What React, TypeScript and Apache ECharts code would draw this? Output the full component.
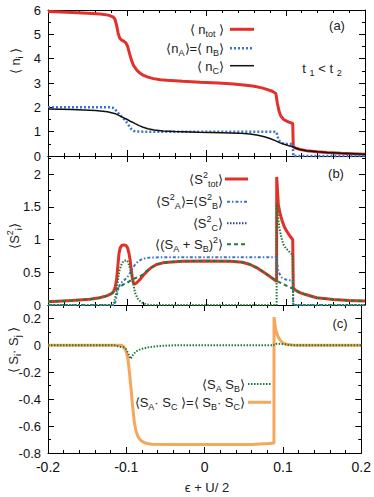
import React, { useEffect, useRef } from "react";
import * as echarts from "echarts";

// ---------- data (x = epsilon + U/2) ----------
const xTickValues = [-0.2, -0.1, 0, 0.1, 0.2];

// panel (a): occupations
const nTot: [number, number][] = [
  [-0.2, 5.94], [-0.176, 5.91], [-0.15, 5.87], [-0.134, 5.84], [-0.124, 5.79], [-0.118, 5.72],
  [-0.1155, 5.62], [-0.1135, 5.38], [-0.1115, 5.05], [-0.1095, 4.84], [-0.107, 4.76], [-0.104, 4.71],
  [-0.1015, 4.64], [-0.0995, 4.5], [-0.097, 4.2], [-0.0945, 3.92], [-0.092, 3.72], [-0.088, 3.53],
  [-0.084, 3.41], [-0.08, 3.32], [-0.074, 3.24], [-0.067, 3.18], [-0.058, 3.13], [-0.05, 3.11],
  [-0.03, 3.07], [-0.008, 3.03], [0.015, 3.0], [0.034, 2.96], [0.05, 2.91], [0.06, 2.87], [0.07, 2.8],
  [0.077, 2.73], [0.083, 2.66], [0.0875, 2.57], [0.0895, 2.16], [0.0915, 1.85], [0.0935, 1.66],
  [0.097, 1.51], [0.1, 1.45], [0.104, 1.39], [0.1088, 1.34], [0.1095, 0.38], [0.113, 0.32],
  [0.118, 0.27], [0.126, 0.22], [0.14, 0.17], [0.152, 0.14], [0.17, 0.11], [0.2, 0.07],
];
const nA: [number, number][] = [
  [-0.2, 2.0], [-0.122, 2.0], [-0.118, 1.98], [-0.1155, 1.93], [-0.113, 1.82], [-0.109, 1.68],
  [-0.106, 1.58], [-0.103, 1.48], [-0.1, 1.35], [-0.097, 1.2], [-0.0945, 1.09], [-0.092, 1.03],
  [-0.088, 1.01], [-0.08, 1.0], [0.0875, 1.0], [0.0885, 0.98], [0.0895, 0.82], [0.091, 0.66],
  [0.093, 0.58], [0.096, 0.53], [0.1, 0.5], [0.1088, 0.49], [0.1095, 0.0], [0.2, 0.0],
];
const nC: [number, number][] = [
  [-0.2, 1.93], [-0.17, 1.91], [-0.14, 1.87], [-0.125, 1.82], [-0.115, 1.74], [-0.11, 1.66],
  [-0.105, 1.58], [-0.1, 1.5], [-0.097, 1.44], [-0.094, 1.4], [-0.09, 1.33], [-0.085, 1.25],
  [-0.08, 1.18], [-0.074, 1.12], [-0.066, 1.07], [-0.055, 1.03], [-0.04, 1.01], [-0.01, 0.98],
  [0.02, 0.96], [0.04, 0.94], [0.055, 0.9], [0.065, 0.85], [0.073, 0.79], [0.08, 0.72],
  [0.0875, 0.62], [0.092, 0.55], [0.097, 0.49], [0.103, 0.43], [0.1088, 0.38], [0.113, 0.32],
  [0.118, 0.27], [0.126, 0.22], [0.14, 0.17], [0.152, 0.14], [0.17, 0.11], [0.2, 0.07],
];

// panel (b): squared spins
const sTot2: [number, number][] = [
  [-0.2, 0.05], [-0.17, 0.07], [-0.147, 0.087], [-0.135, 0.11], [-0.126, 0.14], [-0.1205, 0.17],
  [-0.1175, 0.2], [-0.1155, 0.26], [-0.1135, 0.38], [-0.112, 0.58], [-0.1105, 0.78], [-0.109, 0.87],
  [-0.107, 0.91], [-0.1045, 0.92], [-0.1015, 0.91], [-0.0995, 0.87], [-0.098, 0.8], [-0.0965, 0.7],
  [-0.095, 0.55], [-0.0935, 0.4], [-0.092, 0.33], [-0.0905, 0.32], [-0.088, 0.34], [-0.084, 0.39],
  [-0.08, 0.45], [-0.0755, 0.51], [-0.07, 0.57], [-0.063, 0.62], [-0.055, 0.645], [-0.048, 0.655],
  [-0.03, 0.67], [0, 0.675], [0.03, 0.67], [0.045, 0.655], [0.055, 0.62], [0.065, 0.56],
  [0.076, 0.47], [0.0865, 0.38], [0.0885, 0.36], [0.0886, 1.96], [0.0906, 1.54], [0.0928, 1.4],
  [0.0949, 1.31], [0.098, 1.2], [0.1012, 1.13], [0.105, 1.06], [0.1088, 1.0], [0.1095, 0.26],
  [0.113, 0.22], [0.118, 0.19], [0.125, 0.16], [0.139, 0.11], [0.16, 0.085], [0.18, 0.07], [0.2, 0.06],
];
const sA2: [number, number][] = [
  [-0.2, 0], [-0.116, 0], [-0.114, 0.1], [-0.112, 0.22], [-0.109, 0.32], [-0.106, 0.36],
  [-0.103, 0.39], [-0.1, 0.42], [-0.097, 0.48], [-0.094, 0.55], [-0.09, 0.62], [-0.086, 0.67],
  [-0.08, 0.71], [-0.072, 0.725], [-0.06, 0.73], [0.0875, 0.73], [0.0885, 0.72], [0.0895, 0.6],
  [0.0906, 0.52], [0.093, 0.46], [0.095, 0.42], [0.1, 0.39], [0.1088, 0.37], [0.1095, 0], [0.2, 0],
];
const sC2: [number, number][] = [
  [-0.2, 0], [-0.12, 0], [-0.117, 0.03], [-0.1142, 0.16], [-0.112, 0.35], [-0.11, 0.52],
  [-0.107, 0.63], [-0.104, 0.68], [-0.1, 0.68], [-0.098, 0.62], [-0.0945, 0.47], [-0.092, 0.3],
  [-0.0902, 0.19], [-0.087, 0.1], [-0.084, 0.06], [-0.08, 0.025], [-0.0755, 0.01], [-0.07, 0],
  [0.0885, 0], [0.0886, 1.56], [0.0905, 1.32], [0.092, 1.18], [0.0945, 1.03], [0.097, 0.93],
  [0.1, 0.87], [0.1033, 0.83], [0.1088, 0.76], [0.1095, 0], [0.2, 0],
];
const sAB2: [number, number][] = [
  [-0.2, 0.05], [-0.17, 0.07], [-0.147, 0.087], [-0.135, 0.11], [-0.126, 0.14], [-0.12, 0.17],
  [-0.1155, 0.21], [-0.1133, 0.24], [-0.1055, 0.31], [-0.1, 0.34], [-0.0965, 0.37], [-0.09, 0.41],
  [-0.084, 0.44], [-0.08, 0.47], [-0.0755, 0.52], [-0.07, 0.57], [-0.063, 0.62], [-0.055, 0.645],
  [-0.048, 0.655], [-0.03, 0.67], [0, 0.675], [0.03, 0.67], [0.045, 0.655], [0.055, 0.62],
  [0.065, 0.56], [0.076, 0.47], [0.0865, 0.38], [0.0885, 0.37], [0.095, 0.33], [0.1, 0.3],
  [0.105, 0.27], [0.1095, 0.25], [0.113, 0.22], [0.118, 0.19], [0.125, 0.16], [0.139, 0.11],
  [0.16, 0.085], [0.18, 0.07], [0.2, 0.06],
];

// panel (c): spin correlations
const sAsB: [number, number][] = [
  [-0.2, 0], [-0.115, 0], [-0.11, -0.008], [-0.104, -0.015], [-0.1, -0.03], [-0.097, -0.07],
  [-0.0945, -0.1], [-0.092, -0.075], [-0.088, -0.047], [-0.084, -0.034], [-0.0797, -0.025],
  [-0.072, -0.015], [-0.063, -0.008], [-0.05, -0.002], [-0.04, 0], [0.0885, 0], [0.0886, 0.006],
  [0.092, 0.012], [0.1, 0.01], [0.106, 0.005], [0.112, 0], [0.2, 0],
];
const sAsC: [number, number][] = [
  [-0.2, 0], [-0.106, 0], [-0.103, -0.01], [-0.1, -0.05], [-0.098, -0.1], [-0.096, -0.2],
  [-0.094, -0.32], [-0.092, -0.45], [-0.09, -0.56], [-0.088, -0.63], [-0.085, -0.68],
  [-0.081, -0.71], [-0.076, -0.725], [-0.068, -0.735], [-0.04, -0.737], [0.06, -0.737],
  [0.082, -0.73], [0.0885, -0.725], [0.0886, 0.21], [0.0895, 0.17], [0.0906, 0.12], [0.093, 0.076],
  [0.095, 0.05], [0.0977, 0.03], [0.101, 0.015], [0.106, 0.006], [0.112, 0.002], [0.12, 0], [0.2, 0],
];

// ---------- styling ----------
const FONT = "'Liberation Sans', Arial, Helvetica, sans-serif";
const RED = "#e2302b";
const BLUE = "#3b74cf";
const NAVY = "#2a3f8f";
const GREEN = "#1e7d36";
const ORANGE = "#f8a65a";
const BLACK = "#111111";

const LEFT = 48;
const WIDTH = 317;
const PANELS = [
  { top: 10, height: 146, min: 0, max: 6, interval: 1, minor: 2, showMax: true },
  { top: 156, height: 149, min: 0, max: 2.28, interval: 0.5, minor: 2, showMax: false },
  { top: 305, height: 148, min: -0.8, max: 0.3, interval: 0.2, minor: 2, showMax: false },
];

const RICH: any = {
  sub: { fontSize: 9, lineHeight: 9, verticalAlign: "bottom", fontFamily: FONT },
  sup: { fontSize: 9, lineHeight: 9, verticalAlign: "top", fontFamily: FONT },
};

function txt(x: number, y: number, text: string, align: string, extra: any = {}) {
  return {
    type: "text",
    x,
    y,
    silent: true,
    ...extra,
    style: {
      text,
      align,
      verticalAlign: "middle",
      fontSize: 13,
      lineHeight: 18,
      fontFamily: FONT,
      fill: "#222",
      rich: RICH,
    },
  };
}
function sample(x1: number, x2: number, y: number, stroke: string, lineWidth: number, lineDash?: number[]) {
  return {
    type: "line",
    silent: true,
    shape: { x1, y1: y, x2, y2: y },
    style: { stroke, lineWidth, lineDash: lineDash || null },
  };
}

export default function App() {
  const ref = useRef<HTMLDivElement>(null);
  useEffect(() => {
    const chart = echarts.init(ref.current!, null, { renderer: "svg" });
    const grids = PANELS.map((p) => ({ left: LEFT, width: WIDTH, top: p.top, height: p.height }));
    const xAxes: any[] = [];
    const yAxes: any[] = [];
    PANELS.forEach((p, gi) => {
      ["bottom", "top"].forEach((pos) => {
        xAxes.push({
          type: "value",
          gridIndex: gi,
          position: pos,
          min: -0.2,
          max: 0.2,
          interval: 0.1,
          axisLine: { show: true, onZero: false, lineStyle: { color: "#000", width: 1 } },
          axisTick: { show: true, inside: true, length: 6, lineStyle: { color: "#000" } },
          minorTick: { show: true, splitNumber: 5, length: 3, lineStyle: { color: "#000" } },
          splitLine: { show: false },
          axisLabel: {
            show: gi === 2 && pos === "bottom",
            fontSize: 14,
            color: "#111",
            margin: 7,
            fontFamily: FONT,
            customValues: xTickValues,
          },
        });
      });
      ["left", "right"].forEach((pos) => {
        yAxes.push({
          type: "value",
          gridIndex: gi,
          position: pos,
          min: p.min,
          max: p.max,
          interval: p.interval,
          axisLine: { show: true, onZero: false, lineStyle: { color: "#000", width: 1 } },
          axisTick: { show: true, inside: true, length: 6, lineStyle: { color: "#000" } },
          minorTick: { show: true, splitNumber: p.minor, length: 3, lineStyle: { color: "#000" } },
          splitLine: { show: false },
          axisLabel: {
            show: pos === "left",
            fontSize: 13,
            color: "#111",
            margin: 7,
            fontFamily: FONT,
            showMaxLabel: p.showMax,
          },
        });
      });
    });
    const line = (g: number, data: any, color: string, width: number, type: any, z = 2) => ({
      type: "line",
      xAxisIndex: 2 * g,
      yAxisIndex: 2 * g,
      data,
      showSymbol: false,
      symbol: "none",
      clip: false,
      z,
      lineStyle: { color, width, type },
    });
    const series = [
      line(0, nTot, RED, 3, "solid"),
      line(0, nA, BLUE, 2.5, [2, 2], 3),
      line(0, nC, BLACK, 1.5, "solid", 4),
      line(1, sTot2, RED, 3, "solid"),
      line(1, sA2, BLUE, 2, [3, 2, 1.5, 2], 3),
      line(1, sC2, GREEN, 2, [1.5, 1.5], 4),
      line(1, sAB2, GREEN, 2, [4, 3], 5),
      line(2, sAsC, ORANGE, 3, "solid"),
      line(2, sAsB, GREEN, 2, [1.5, 1.5], 3),
    ];
    const graphic: any[] = [
      // panel a legend
      txt(224, 29, "⟨ n{sub|tot} ⟩", "right"),
      sample(230, 254, 29.3, RED, 3),
      txt(224, 48, "⟨n{sub|A}⟩=⟨ n{sub|B}⟩", "right"),
      sample(230, 254, 48.3, BLUE, 2.5, [2, 2]),
      txt(224, 66, "⟨ n{sub|C}⟩", "right"),
      sample(230, 254, 65.7, BLACK, 1.5),
      txt(337, 25, "(a)", "center"),
      txt(322, 68, "t {sub|1} < t {sub|2}", "center"),
      // panel b legend
      txt(223, 179, "⟨S{sup|2}{sub|tot}⟩", "right"),
      sample(225, 248, 179, RED, 3),
      txt(223, 201.5, "⟨S{sup|2}{sub|A}⟩=⟨S{sup|2}{sub|B}⟩", "right"),
      sample(227, 248, 201.7, BLUE, 2, [3, 2, 1.5, 2]),
      txt(223, 223, "⟨S{sup|2}{sub|C}⟩", "right"),
      sample(227, 248, 223.3, NAVY, 2, [1.5, 1.5]),
      txt(223, 244, "⟨(S{sub|A} + S{sub|B}){sup|2}⟩", "right"),
      sample(227, 248, 244.3, GREEN, 2, [4, 3]),
      txt(336, 173, "(b)", "center"),
      // panel c legend
      txt(245, 384, "⟨S{sub|A} S{sub|B}⟩", "right"),
      sample(248, 271, 384, GREEN, 2, [1.5, 1.5]),
      txt(245, 402, "⟨S{sub|A}· S{sub|C} ⟩=⟨ S{sub|B}· S{sub|C}⟩", "right"),
      sample(248, 271, 402.3, ORANGE, 3),
      txt(340, 323, "(c)", "center"),
      // axis titles
      txt(15, 61, "⟨ n{sub|i} ⟩", "center", { rotation: Math.PI / 2 }),
      txt(14, 236, "⟨S{sup|2}{sub|i}⟩", "center", { rotation: Math.PI / 2 }),
      txt(13, 350, "⟨ S{sub|i}· S{sub|j} ⟩", "center", { rotation: Math.PI / 2 }),
      txt(207, 487, "ϵ + U/ 2", "center"),
    ];
    chart.setOption({
      animation: false,
      textStyle: { fontFamily: FONT },
      grid: grids,
      xAxis: xAxes,
      yAxis: yAxes,
      series,
      graphic,
    });
    return () => chart.dispose();
  }, []);
  return <div ref={ref} style={{ position: "absolute", left: 0, top: 0, width: 374, height: 497 }} />;
}
